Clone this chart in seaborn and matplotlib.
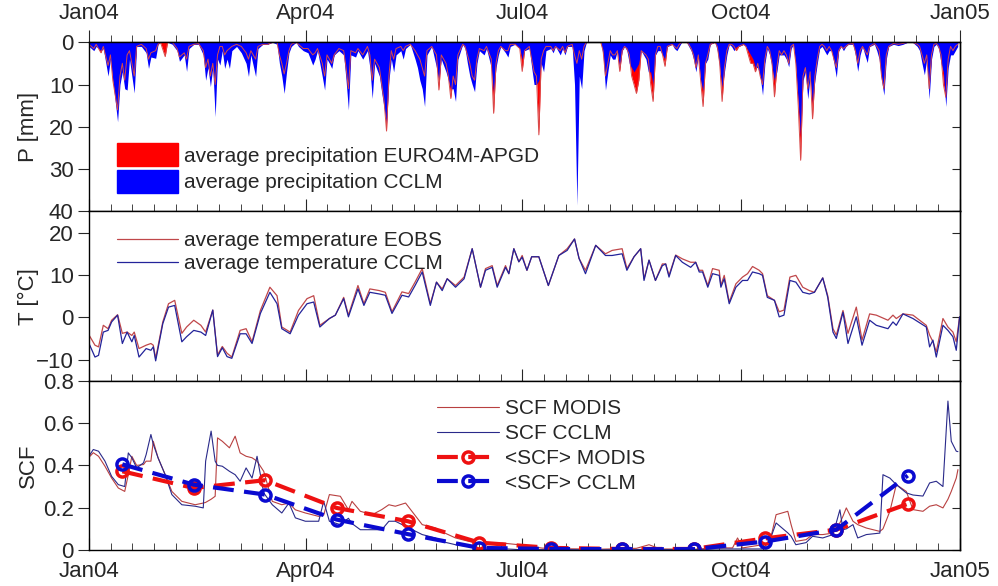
import numpy as np
import pandas as pd
import matplotlib
matplotlib.use("Agg")
import matplotlib.pyplot as plt
from matplotlib.patches import Patch
import seaborn as sns

# ---- data (days since 1 Jan 2004) ----
p_day = [0, 2, 3, 5, 6, 8, 9, 10, 12, 13, 14, 15, 16, 17, 19, 20, 22, 24, 25, 26, 28, 29, 30,
         32, 33, 35, 37, 38, 40, 41, 42, 44, 46, 48, 49, 50, 51, 52, 53, 54, 55, 56, 57, 58, 59, 60,
         62, 64, 66, 67, 68, 70, 71, 73, 75, 77, 79, 80, 81, 82, 83, 84, 85, 87, 88, 90,
         92, 94, 95, 96, 98, 99, 100, 101, 102, 103, 105, 107, 108, 109, 110, 112, 113, 115, 117, 118,
         119, 120, 122, 123, 124, 125, 126,
         127, 128, 129, 131, 132, 133, 135, 137, 138, 139, 140, 141, 142, 144, 146, 147, 148, 150, 151,
         152, 153, 154, 155, 157,
         158, 159, 160, 161, 162, 163, 164, 166, 167, 169, 170, 171, 172, 173, 175, 176, 177, 179, 181,
         182, 183, 185, 186, 187, 188, 189, 190, 191, 192,
         194, 195, 196, 198, 199, 200, 201, 203, 204, 205, 206, 207, 208, 209, 212,
         215, 216, 217, 218, 219, 220, 221, 222, 223, 224, 225, 226, 227, 228, 229, 230, 231, 232, 234,
         235, 236, 237, 238, 239, 240, 241, 242, 243,
         245, 246, 247, 248, 249, 251, 252, 253, 254, 255, 256, 257, 258, 259, 260, 261, 263, 264, 265,
         266, 267, 268, 269, 270, 271, 272, 273,
         275, 276, 277, 278, 279, 280, 281, 282, 283, 284, 285, 286, 287, 288, 289, 290, 291, 292, 293,
         294, 295, 296, 297, 298, 299, 300, 301, 302, 303, 304, 305, 306, 307,
         308, 309, 310, 311, 312, 313, 314, 315, 316, 317, 318, 319, 321, 322, 323, 324, 325, 326, 327,
         328, 330, 331, 332, 333, 334, 335, 336,
         338, 340, 342, 344, 346, 348, 349, 350, 351, 352, 353, 354, 355, 356, 357, 358, 359, 360, 361,
         362, 363, 364, 365]
p_euro = [0.5, 1.5, 0.5, 2.5, 1.0, 5.5, 3.0, 9, 16, 8, 5, 9, 3, 2, 8, 1, 0.5, 1.5, 4, 2.5, 2.0, 0.5, 0,
          3.4, 0, 0, 1.5, 3.5, 2.5, 4, 1, 0.5, 0.3, 2, 6, 4, 8, 5, 10, 3, 1, 1, 3, 2, 1.5, 1,
          0.5, 1, 2.5, 4, 2, 4, 1, 0.5, 0.5, 0, 0, 3, 5, 7.5, 5, 2, 0.5, 0, 0.5, 1.5,
          1.5, 3, 2.5, 1.5, 5, 8, 3, 4, 5, 3, 1.5, 2, 6, 11, 2, 2.5, 1.5, 3, 1, 3,
          9, 4, 6, 10, 14, 21, 8,
          2, 4, 1.5, 1.0, 2, 1, 0.5, 2, 3, 4, 6, 8, 2, 1, 3, 11.3, 3, 5, 8,
          13.3, 8, 10, 3, 0.5,
          1, 3, 5, 8, 9, 4, 1.5, 2, 1, 4, 16.8, 5, 2, 1, 2, 2, 0.5, 0.5, 1.5,
          6.9, 2, 1, 4, 7, 8, 21.9, 4, 2, 1,
          1, 2, 1, 2, 1, 2.5, 1, 0.5, 3, 5, 2, 4, 1, 0, 0,
          0, 2, 8, 5, 2, 3, 3, 2, 6.9, 2, 1, 1.5, 3, 8, 10, 12.1, 9, 2, 3,
          4, 10, 14, 3, 1, 1, 3, 5.7, 1,
          0.5, 1, 1.5, 0.5, 0, 0, 0.5, 1.5, 3, 6, 3, 9, 15.2, 5, 3, 0.5, 0, 1, 5,
          14, 6, 2, 0.5, 0.5, 1, 2, 1,
          0.5, 1, 3, 5, 5, 7, 5, 8, 10, 4, 1, 2, 5, 12.9, 6, 2, 3, 2, 3,
          5, 1, 0.5, 5, 15, 27.9, 8, 6, 11, 7, 18.1, 8, 4, 1,
          0.5, 1, 2, 1, 2, 4, 6, 2, 1, 1.5, 1, 0.5, 0.3, 2, 5, 2, 1, 2, 3,
          1, 0.3, 1, 2, 8, 11, 3, 1,
          0.3, 0.5, 0.3, 0, 0, 0.5, 1, 3, 5, 3, 11, 3, 0.5, 0.3, 1, 3, 10, 13, 4,
          1, 2, 1, 0.5]
p_cclm = [1.0, 2.0, 1.0, 2.0, 1.5, 8.0, 4.0, 9, 18.8, 10, 7, 11, 11.3, 4, 12, 1, 1.0, 2.5, 6.2, 3.5, 3.8, 0.5, 0,
          0, 0, 0.5, 2.0, 4.5, 3.0, 6.9, 1.5, 0.5, 0.5, 3, 9, 6, 10.5, 6, 17.6, 4, 5.4, 2, 6.2, 4, 6.2, 2,
          1, 2.5, 5, 8.1, 3, 8.1, 1.5, 0.5, 0.5, 0, 0.5, 5, 8, 12.1, 7, 2.5, 1, 0, 1, 2,
          2.5, 5.4, 4, 2, 8.1, 11.3, 4, 5, 6.2, 3, 2, 3, 9, 16, 3, 3.5, 2, 4, 2, 6,
          13.3, 5, 8, 12, 15.6, 19.2, 9,
          4, 7, 3, 2, 4, 1.5, 0.5, 4, 6, 9, 11, 15.2, 3, 1, 6, 9, 4, 7, 9,
          11, 11, 14, 4, 0.5,
          1.5, 5, 8, 10, 11.7, 5, 2, 3, 1.5, 6, 12, 6, 3, 1, 2.5, 3.5, 1, 0.5, 1.5,
          4, 2, 1.5, 6, 10, 10, 9, 5, 7, 2,
          1.5, 2.5, 1, 3, 1.5, 3, 1, 1, 10, 38.5, 8, 11, 2, 0, 0,
          0, 3, 11.3, 7, 3, 4, 4, 2, 6, 2, 1, 2, 5, 6, 7, 6, 5, 2, 4,
          7, 7, 10, 3, 2, 2, 3, 4, 1,
          0.5, 1.5, 2, 1, 0, 0, 1, 2, 4, 7, 3, 9, 11.5, 5, 4, 0.5, 0, 2, 6,
          10.6, 7, 3, 0.5, 1, 2, 1, 1,
          0.5, 1, 2, 3, 4, 6, 6, 8, 12.5, 5, 1.5, 3, 6, 9, 7, 3, 3, 3, 4,
          5.8, 1.5, 0.5, 6, 14, 22.5, 9, 7, 13.4, 8, 14.5, 9, 5, 1.5,
          1.0, 2, 3, 2, 2, 5, 8.3, 2, 1, 2, 1, 0.5, 0.5, 3, 6.9, 3, 1, 3, 4.8,
          1, 0.5, 2, 4, 9, 12.5, 4, 1,
          0.5, 0.8, 0.5, 0, 0, 1, 2, 5, 7.7, 4, 13.4, 4, 1, 0.5, 1.5, 5, 7, 15.2, 6,
          3, 3, 2, 1]

t_day = [0, 2.5, 4, 6, 8, 9.5, 12, 14, 16, 18, 19, 21, 24, 26, 27, 28, 31, 33.4, 36, 39, 41, 44, 47,
         49, 52, 54, 56, 58, 60, 63.5, 66, 68.5, 72, 76, 79, 81, 84.5, 88, 91.6, 94.4, 97, 101, 103.5,
         107, 109, 113, 115.5, 118, 122, 124.5, 127.3, 131.5, 134.3, 137, 140, 143.4, 146, 148.4, 150.5,
         154, 157.6, 161, 164.5, 166.6, 169.4, 171.5, 175, 176.4, 178.5, 180.6, 182, 184, 186, 189, 193,
         197.4, 200.9, 204, 205.9, 208.6, 212.9, 217, 219.8, 224, 226, 229, 231.8, 233.2, 235.3, 238,
         240.9, 242.3, 243.7, 246.5, 249.3, 252.8, 254.9, 256.4, 257.8, 260, 262, 264.8, 265.5, 266.9,
         269, 271.8, 274.6, 276.7, 278.8, 281.6, 283, 285, 288, 290, 292, 294.5, 297, 299.9, 302.7,
         304.8, 308.3, 310.4, 312.6, 314, 316.8, 318.9, 322.4, 324.8, 328, 330.8, 335.7, 337.8, 339.2,
         342, 346.2, 351.8, 353.2, 354.6, 356, 358.8, 360.9, 363, 364.4, 365.8]
t_eobs = [-4.2, -6.6, -7.0, -1.9, -2.7, -0.7, 0.6, -3.8, -3.5, -4.3, -3.5, -7.4, -6.6, -6.2, -6.6, -9.7,
          -1.1, 3.2, 4.0, -3.8, -2.3, -0.7, -1.9, -3.5, 1.7, -8.9, -6.9, -8.5, -9.4, -3.1, -2.7, -5.8,
          1.6, 7.1, 5.1, -2.3, -3.5, 1.6, 4.4, 5.1, -1.9, -0.3, 0.5, 4.7, 0.5, 7.5, 3.2, 6.7, 6.3, 5.9,
          1.3, 6.0, 5.6, 8.3, 11.5, 3.2, 8.3, 6.7, 9.1, 7.5, 9.5, 16.2, 7.1, 11.5, 12.2, 7.5, 12.2, 10.3,
          16.2, 13.1, 14.6, 11.1, 14.3, 14.3, 7.5, 14.6, 16.2, 18.5, 13.9, 11.1, 17.0, 15.0, 15.8, 16.2,
          11.5, 14.3, 16.2, 9.1, 13.5, 8.7, 12.6, 12.6, 9.9, 14.7, 13.8, 13.0, 13.0, 11.1, 11.1, 7.5,
          11.5, 11.1, 7.5, 9.9, 3.6, 7.9, 9.5, 10.3, 12.0, 11.1, 10.3, 5.1, 4.0, 1.3, 1.7, 9.5, 9.9, 7.1,
          6.3, 5.9, 9.3, 5.1, -2.7, -4.2, 1.6, -3.8, 2.4, -5.4, 0.8, 0.5, -0.7, 0.5, -0.3, 0.8, 0.5, -1.9,
          -4.2, -5.8, -8.2, -0.3, -2.3, -3.5, -5.8, 0.1]
t_cclm = [-6.2, -9.4, -9.0, -3.5, -3.1, -1.1, 0.5, -6.2, -3.5, -5.8, -4.3, -9.4, -7.4, -7.8, -7.0, -10.3,
          -1.5, 2.4, 2.8, -5.8, -4.6, -3.1, -3.5, -4.3, 1.7, -9.3, -7.2, -9.3, -9.7, -3.9, -3.9, -6.2,
          0.9, 5.9, 3.2, -2.7, -3.9, 0.5, 3.2, 3.6, -2.3, -0.3, 0.5, 4.4, 0.1, 6.7, 2.8, 5.9, 5.5, 5.2,
          0.9, 5.2, 4.8, 7.5, 10.7, 2.8, 8.3, 6.3, 9.1, 7.1, 9.1, 16.2, 7.1, 11.1, 11.8, 7.1, 11.8, 10.3,
          16.2, 13.1, 14.2, 11.1, 14.3, 14.3, 7.5, 14.6, 15.8, 18.5, 13.9, 10.3, 17.0, 14.6, 14.6, 15.0,
          11.1, 14.3, 16.2, 8.7, 13.5, 8.7, 12.2, 12.6, 9.5, 14.6, 13.0, 11.8, 13.0, 10.7, 10.7, 7.1,
          10.3, 9.9, 7.1, 9.1, 3.2, 7.1, 8.7, 8.7, 10.7, 10.3, 9.9, 4.7, 4.0, 0.1, 0.5, 8.7, 8.3, 5.9,
          5.5, 5.9, 9.3, 4.7, -3.5, -5.0, 1.2, -6.2, 0.1, -6.6, -0.7, -1.9, -2.7, -1.1, -1.9, 0.8, -0.3,
          -2.3, -7.0, -5.4, -9.4, -1.9, -3.1, -4.6, -7.8, 0.1]

s_day = [0.4, 1.8, 4, 6.7, 9.5, 12.3, 15, 16.5, 18, 20, 22.9, 24, 26, 27, 29, 32, 34.8, 39, 44.6, 48,
         49, 51.3, 53, 54, 56, 59, 61.4, 63.5, 66, 68.5, 70.6, 73.4, 77, 81, 84, 86.7, 90.9, 96.5, 98.6,
         101, 105.6, 109, 110.5, 114, 119, 123, 126, 128.7, 133, 140, 145.6, 148, 154, 159.6, 166.6,
         173.6, 180.6, 190.4, 200, 215, 230, 235.3, 240, 255, 263.4, 270.4, 272.5, 274.6, 283, 285.9,
         288.7, 293.6, 295, 297, 301.3, 304, 308.3, 312.6, 315.5, 316.8, 318.2, 321, 323, 326.6, 332.3,
         333.6, 336.5, 339.2, 343.4, 346.2, 350.4, 353.2, 356, 358.8, 360.9, 362.3, 364.4, 365.1]
scf_modis = [0.443, 0.46, 0.443, 0.396, 0.34, 0.293, 0.277, 0.356, 0.443, 0.40, 0.404, 0.42, 0.42, 0.514,
             0.436, 0.356, 0.277, 0.23, 0.214, 0.222, 0.225, 0.24, 0.254, 0.530, 0.514, 0.483, 0.538,
             0.459, 0.443, 0.436, 0.42, 0.372, 0.23, 0.214, 0.222, 0.19, 0.175, 0.159, 0.165, 0.262,
             0.254, 0.19, 0.23, 0.183, 0.167, 0.191, 0.214, 0.207, 0.222, 0.12, 0.104, 0.088, 0.057,
             0.041, 0.025, 0.033, 0.025, 0.009, 0.006, 0.004, 0.008, 0.025, 0.005, 0.004, 0.01, 0.01,
             0.057, 0.01, 0.025, 0.03, 0.167, 0.183, 0.12, 0.041, 0.049, 0.073, 0.073, 0.08, 0.128,
             0.16, 0.199, 0.136, 0.12, 0.104, 0.088, 0.10, 0.183, 0.309, 0.277, 0.191, 0.183, 0.207,
             0.214, 0.199, 0.24, 0.277, 0.34, 0.38]
scf_cclm = [0.451, 0.475, 0.467, 0.42, 0.348, 0.309, 0.30, 0.459, 0.436, 0.388, 0.412, 0.451, 0.546, 0.50,
            0.436, 0.356, 0.262, 0.214, 0.207, 0.199, 0.42, 0.562, 0.42, 0.40, 0.396, 0.372, 0.356,
            0.325, 0.388, 0.34, 0.443, 0.27, 0.214, 0.175, 0.222, 0.152, 0.136, 0.136, 0.23, 0.136,
            0.12, 0.15, 0.125, 0.096, 0.096, 0.096, 0.136, 0.136, 0.112, 0.073, 0.057, 0.041, 0.025,
            0.017, 0.002, 0.006, 0.002, 0.002, 0.002, 0.001, 0.002, 0.004, 0.002, 0.002, 0.005, 0.005,
            0.005, 0.005, 0.005, 0.041, 0.128, 0.081, 0.065, 0.025, 0.035, 0.065, 0.057, 0.073, 0.19,
            0.096, 0.10, 0.12, 0.057, 0.073, 0.080, 0.356, 0.34, 0.309, 0.27, 0.26, 0.255, 0.317,
            0.325, 0.30, 0.704, 0.514, 0.467, 0.465]

# 30-day means
m_day = [14, 44, 74, 104, 134, 164, 194, 224, 254, 284, 314, 344]
mean_modis = [0.372, 0.293, 0.33, 0.199, 0.136, 0.035, 0.01, 0.005, 0.005, 0.055, 0.096, 0.218]
mean_cclm = [0.405, 0.309, 0.262, 0.144, 0.075, 0.01, 0.005, 0.004, 0.004, 0.04, 0.096, 0.352]

tick_days = [0, 91, 182, 274, 366]
tick_labels = ["Jan04", "Apr04", "Jul04", "Oct04", "Jan05"]

prec = pd.DataFrame({"day": p_day, "euro": p_euro, "cclm": p_cclm})
temp = pd.DataFrame({"day": t_day, "eobs": t_eobs, "cclm": t_cclm})
scf = pd.DataFrame({"day": s_day, "modis": scf_modis, "cclm": scf_cclm})

sns.set_style("ticks")
plt.rcParams["font.family"] = ["Liberation Sans", "DejaVu Sans"]
plt.rcParams["font.size"] = 15
plt.rcParams["axes.linewidth"] = 1.0

fig, axes = plt.subplots(3, 1, figsize=(9.98, 5.86), dpi=100, sharex=True)
fig.subplots_adjust(left=0.0892, right=0.962, top=0.928, bottom=0.0614, hspace=0)
ax1, ax2, ax3 = axes

leg_kw = dict(frameon=False, handlelength=2.95, handletextpad=0.3, fontsize=15)

# precipitation
ax1.fill_between(prec["day"], 0, prec["euro"], color="#ff0000", lw=0)
ax1.fill_between(prec["day"], 0, prec["cclm"], color="#0000ff", lw=0)
sns.lineplot(data=prec, x="day", y="euro", ax=ax1, color="#d84a4a", lw=0.7, estimator=None)
ax1.set_ylim(40, 0)
ax1.set_yticks([0, 10, 20, 30, 40])
ax1.set_ylabel("P [mm]")
ax1.legend(handles=[Patch(color="#ff0000", label="average precipitation EURO4M-APGD"),
                    Patch(color="#0000ff", label="average precipitation CCLM")],
           loc="lower left", bbox_to_anchor=(0.022, 0.06), handleheight=1.35,
           labelspacing=0.15, borderaxespad=0, **leg_kw)

# temperature
sns.lineplot(data=temp, x="day", y="eobs", ax=ax2, color="#c0474a", lw=0.9,
             estimator=None, label="average temperature EOBS")
sns.lineplot(data=temp, x="day", y="cclm", ax=ax2, color="#23239a", lw=0.9,
             estimator=None, label="average temperature CCLM")
ax2.set_ylim(-15, 25)
ax2.set_yticks([-10, 0, 10, 20])
ax2.set_ylabel("T [°C]")
ax2.legend(loc="upper left", bbox_to_anchor=(0.022, 0.935), labelspacing=0.2,
           borderaxespad=0, **leg_kw)

# snow cover fraction
sns.lineplot(data=scf, x="day", y="modis", ax=ax3, color="#b84040", lw=0.8,
             estimator=None, label="SCF MODIS")
sns.lineplot(data=scf, x="day", y="cclm", ax=ax3, color="#2a2a8a", lw=0.8,
             estimator=None, label="SCF CCLM")
ax3.plot(m_day, mean_modis, color="#ee1111", lw=3, dashes=(5, 2.5), marker="o", ms=8,
         mfc="none", mew=2.5, label="<SCF> MODIS")
ax3.plot(m_day, mean_cclm, color="#0a0ad0", lw=3, dashes=(5, 2.5), marker="o", ms=8,
         mfc="none", mew=2.5, label="<SCF> CCLM")
ax3.set_ylim(0, 0.8)
ax3.set_yticks([0, 0.2, 0.4, 0.6, 0.8])
ax3.set_yticklabels(["0", "0.2", "0.4", "0.6", "0.8"])
ax3.set_ylabel("SCF")
ax3.legend(loc="upper left", bbox_to_anchor=(0.39, 0.94), labelspacing=0.28,
           borderaxespad=0, **leg_kw)

# axes styling
minor = np.concatenate([np.linspace(a, b, 11)[1:-1] for a, b in zip(tick_days[:-1], tick_days[1:])])
for ax in axes:
    ax.set_xlim(0, 366)
    ax.set_xlabel("")
    ax.set_xticks(tick_days)
    ax.set_xticks(minor, minor=True)
    ax.tick_params(axis="x", which="both", direction="in", top=False, bottom=True, labelbottom=False)
    ax.tick_params(axis="x", which="major", length=9)
    ax.tick_params(axis="x", which="minor", length=5)
    ax.tick_params(axis="y", direction="out", length=8, labelsize=16, left=True, right=False, pad=3)
    ax.yaxis.label.set_size(16)
    for sp in ax.spines.values():
        sp.set_visible(True)
        sp.set_color("black")
    ry = ax.secondary_yaxis("right")
    ry.set_yticks(ax.get_yticks())
    ry.tick_params(direction="in", length=6, labelright=False)
    ax.yaxis.set_label_coords(-0.057, 0.5)

ax3.set_xticklabels(tick_labels)
ax3.tick_params(axis="x", labelbottom=True, labelsize=16, pad=8)

top = ax1.secondary_xaxis("top")
top.set_xticks(tick_days)
top.set_xticks(minor, minor=True)
top.set_xticklabels(tick_labels)
top.tick_params(axis="x", which="major", direction="out", length=9, labelsize=16, pad=4)
top.tick_params(axis="x", which="minor", direction="out", length=5)

fig.savefig("out.png", dpi=100)
